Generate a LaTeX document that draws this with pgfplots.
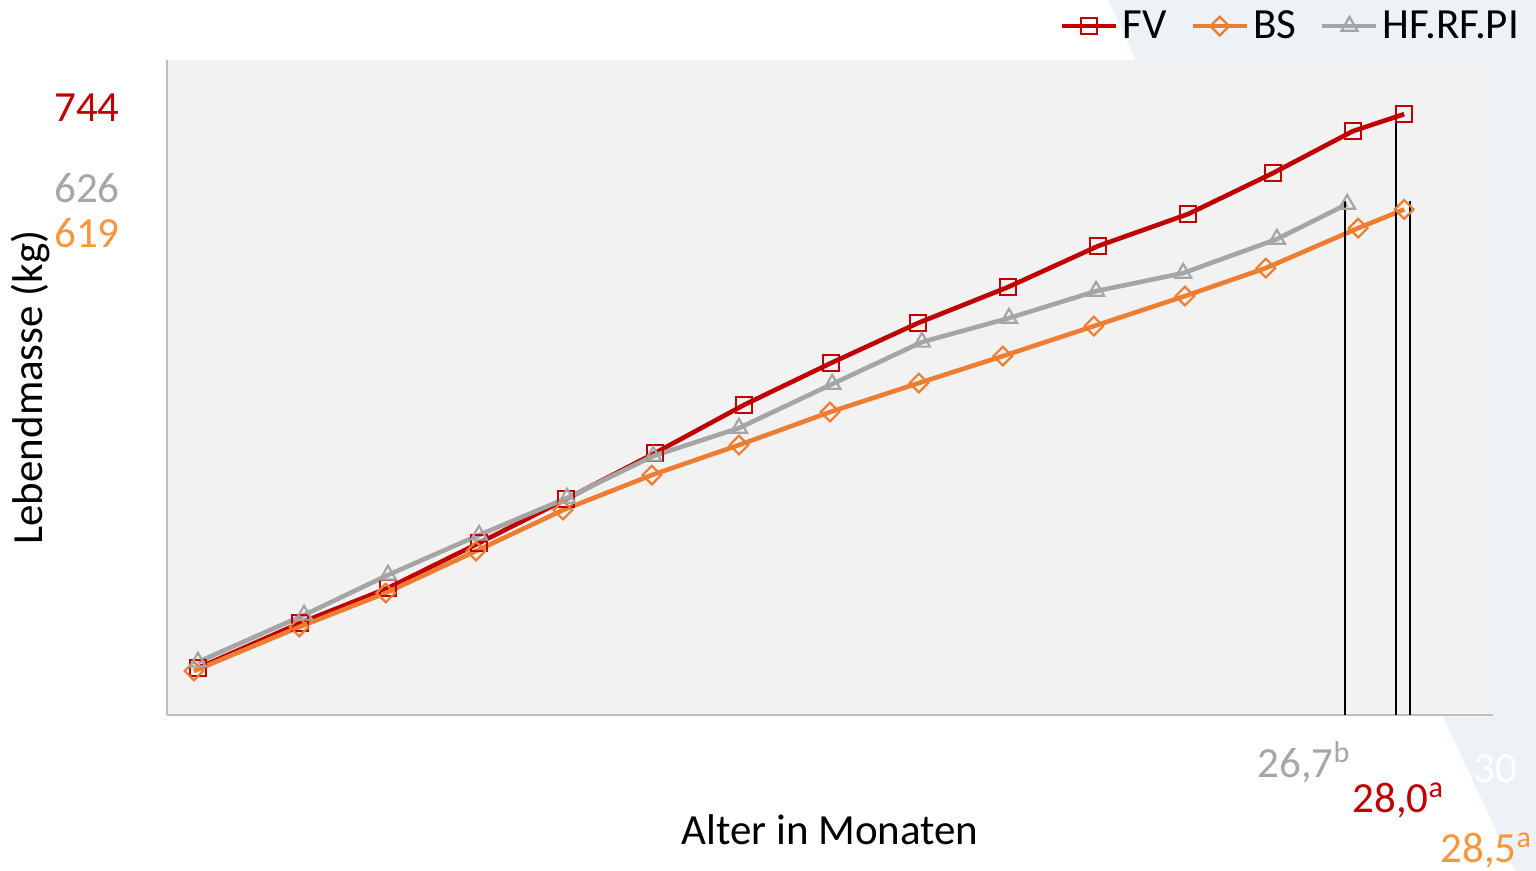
\documentclass[border=0pt]{standalone}
\usepackage{pgfplots}
\pgfplotsset{compat=1.18}
\usepackage{fontspec}
\setmainfont{Carlito}
\definecolor{fvred}{HTML}{C00000}
\definecolor{bsorange}{HTML}{ED7D31}
\definecolor{hfgray}{HTML}{A5A5A5}
\definecolor{lblorange}{RGB}{247,150,60}
\definecolor{lblgray}{RGB}{166,166,166}
\definecolor{plotgray}{HTML}{F2F2F2}
\definecolor{linegray}{HTML}{BFBFBF}
\definecolor{bgblue}{RGB}{237,242,247}
\begin{document}
\begin{tikzpicture}[font=\fontsize{21.5}{25}\selectfont]
\useasboundingbox (0,0) rectangle (768pt,435.5pt);
\fill[bgblue] (554pt,435.5pt) -- (768pt,435.5pt) -- (768pt,0pt) -- (757.5pt,0pt) -- cycle;
\begin{axis}[
  at={(83.5pt,78pt)}, anchor=south west,
  scale only axis, width=663pt, height=327.5pt,
  xmin=0, xmax=30, ymin=-44, ymax=815,
  axis background/.style={fill=plotgray},
  axis lines*=left,
  axis line style={draw=linegray, line width=0.8pt},
  xtick=\empty, ytick=\empty,
  clip=false,
  xlabel={Alter in Monaten},
  xlabel style={at={(axis description cs:0.5,0)}, anchor=base, yshift=-65pt, inner sep=0pt},
  ylabel={Lebendmasse (kg)},
  ylabel style={at={(axis description cs:0,0.5)}, anchor=base, yshift=62pt, inner sep=0pt},
  legend columns=3,
  legend style={draw=none, fill=none, at={(axis description cs:1.023,1.082)}, anchor=north east,
    inner sep=0pt, /tikz/every even column/.append style={column sep=10pt},
    nodes={inner sep=2pt}},
  legend image code/.code={\draw[#1, mark repeat=2, mark phase=2] plot coordinates {(0pt,0pt) (13.5pt,0pt) (27pt,0pt)};},
]
\addplot[fvred, line width=2.3pt, mark=square, mark size=4.1pt, mark options={solid, line width=1.1pt}] coordinates {
(0.70,17.6) (3.01,76.6) (5.00,122.5) (7.06,181.5) (9.03,239.2) (11.04,299.5) (13.05,362.5) (15.02,417.5) (16.99,470) (19.03,517.2) (21.06,570.9) (23.10,612.9) (25.02,666.6) (26.83,721.7) (27.99,744)};
\addlegendentry{FV}
\addplot[bsorange, line width=2.3pt, mark=square, mark size=3.3pt, mark options={solid, rotate=45, line width=1.1pt}] coordinates {
(0.61,13.7) (2.99,71.4) (4.95,116) (6.99,171) (8.96,224.8) (10.97,270.7) (12.94,310) (15.00,353.3) (17.01,391.3) (18.91,426.7) (20.97,466) (23.03,505.4) (24.86,542.1) (26.95,594.5) (27.99,619)};
\addlegendentry{BS}
\addplot[hfgray, line width=2.3pt, mark=triangle, mark size=4.6pt, mark options={solid, line width=1.1pt}] coordinates {
(0.70,25.5) (3.10,87.1) (5.00,139.6) (7.06,192) (9.05,240.5) (11.00,295.6) (12.94,332.3) (15.05,390) (17.08,445.1) (19.05,476.5) (21.02,511.9) (22.99,535.5) (25.11,580.1) (26.70,626)};
\addlegendentry{HF.RF.PI}
\addplot[black, line width=0.8pt, forget plot] coordinates {(26.65,-44) (26.65,630)};
\addplot[black, line width=0.8pt, forget plot] coordinates {(27.81,-44) (27.81,749)};
\addplot[black, line width=0.8pt, forget plot] coordinates {(28.12,-44) (28.12,630)};
\end{axis}
\node[anchor=base east, inner sep=0pt, text=fvred] at (60pt,374.5pt) {744};
\node[anchor=base east, inner sep=0pt, text=lblgray] at (60pt,334pt) {626};
\node[anchor=base east, inner sep=0pt, text=lblorange] at (60pt,311.5pt) {619};
\node[anchor=base west, inner sep=0pt, text=lblgray] at (628.5pt,46.5pt) {26,7\textsuperscript{b}};
\node[anchor=base west, inner sep=0pt, text=fvred] at (676pt,29pt) {28,0\textsuperscript{a}};
\node[anchor=base west, inner sep=0pt, text=lblorange] at (720pt,4pt) {28,5\textsuperscript{a}};
\node[anchor=base west, inner sep=0pt, text=white] at (736.5pt,44pt) {30};
\end{tikzpicture}
\end{document}
